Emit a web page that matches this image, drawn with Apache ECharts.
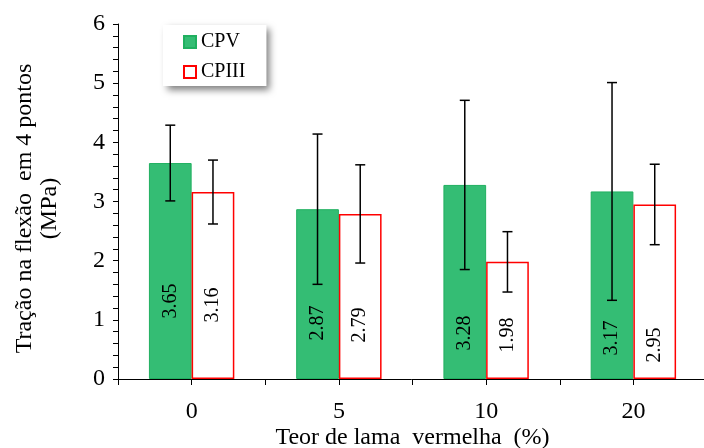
<!DOCTYPE html>
<html>
<head>
<meta charset="utf-8">
<script src="https://cdn.jsdelivr.net/npm/echarts@6/dist/echarts.min.js"></script>
<style>
html,body{margin:0;padding:0;background:#fff;}
#chart{width:704px;height:448px;}
</style>
</head>
<body>
<div id="chart"></div>
<script>
// ---- data ----
var categories = ['0', '5', '10', '20'];
var seriesNames = ['CPV', 'CPIII'];
var cpvValues = [3.65, 2.87, 3.28, 3.17];
var cpiiiValues = [3.16, 2.79, 1.98, 2.95];
var cpvErrors = [0.64, 1.27, 1.43, 1.84];
var cpiiiErrors = [0.54, 0.83, 0.51, 0.68];
var yTicks = [0, 1, 2, 3, 4, 5, 6];

// ---- style (not data) ----
var FONT = "'Liberation Serif', 'Times New Roman', Times, serif";
var labelLift = [[78, 56, 46, 41], [74, 54, 44, 34]]; // px from bar base to label centre
var BAR_FRAC = 0.29;

var allValues = [cpvValues, cpiiiValues];
var allErrors = [cpvErrors, cpiiiErrors];

function barData(s) {
  return allValues[s].map(function (v, i) {
    return {
      value: v,
      label: {
        show: true,
        position: 'insideBottom',
        distance: labelLift[s][i],
        rotate: 90,
        align: 'center',
        verticalAlign: 'middle',
        fontFamily: FONT,
        fontSize: 20,
        color: '#000',
        formatter: function (p) { return p.value.toFixed(2); }
      }
    };
  });
}

var errData = [];
for (var s = 0; s < 2; s++) {
  for (var i = 0; i < categories.length; i++) {
    errData.push([i, allValues[s][i], allErrors[s][i], s]);
  }
}

var chart = echarts.init(document.getElementById('chart'), null, {renderer: 'canvas'});
chart.setOption({
  animation: false,
  backgroundColor: '#fff',
  grid: {left: 118, right: -3, top: 24, bottom: 69, containLabel: false, outerBoundsMode: 'none'},
  legend: {
    data: seriesNames,
    orient: 'vertical',
    left: 163,
    top: 25,
    padding: [7, 21, 4, 20],
    itemGap: 10,
    itemWidth: 12,
    itemHeight: 12,
    icon: 'rect',
    backgroundColor: '#fff',
    shadowBlur: 7,
    shadowColor: 'rgba(0,0,0,0.5)',
    shadowOffsetX: 4,
    shadowOffsetY: 4,
    textStyle: {fontFamily: FONT, fontSize: 20, color: '#000'}
  },
  xAxis: [{
    type: 'category',
    data: categories,
    position: 'bottom',
    name: 'Teor de lama  vermelha  (%)',
    nameLocation: 'middle',
    nameGap: 47,
    nameMoveOverlap: false,
    nameTextStyle: {fontFamily: FONT, fontSize: 24, color: '#000'},
    axisLine: {show: true, lineStyle: {color: '#000', width: 1}},
    axisTick: {show: true, length: 6, lineStyle: {color: '#000'}},
    axisLabel: {fontFamily: FONT, fontSize: 24, color: '#000', margin: 21},
    splitLine: {show: false}
  }, {
    type: 'category',
    data: categories,
    position: 'bottom',
    gridIndex: 0,
    axisLine: {show: false},
    axisTick: {show: true, alignWithLabel: true, length: 6, lineStyle: {color: '#000'}},
    axisLabel: {show: false},
    splitLine: {show: false}
  }],
  yAxis: {
    type: 'value',
    min: yTicks[0],
    max: yTicks[yTicks.length - 1],
    interval: 1,
    name: 'Tração na flexão  em 4 pontos\n(MPa)',
    nameLocation: 'middle',
    nameGap: 56,
    nameMoveOverlap: false,
    nameRotate: 90,
    nameTextStyle: {fontFamily: FONT, fontSize: 24, color: '#000', lineHeight: 25, padding: [0, 14, 0, 0]},
    axisLine: {show: true, lineStyle: {color: '#000', width: 1}},
    axisTick: {show: true, length: 5, lineStyle: {color: '#000'}},
    minorTick: {show: true, splitNumber: 5, length: 5, lineStyle: {color: '#000'}},
    axisLabel: {fontFamily: FONT, fontSize: 24, color: '#000', margin: 13},
    splitLine: {show: false},
    minorSplitLine: {show: false}
  },
  series: [{
    name: 'CPV',
    type: 'bar',
    xAxisIndex: 0,
    barWidth: (BAR_FRAC * 100) + '%',
    barGap: '0%',
    itemStyle: {color: '#34bd74', borderColor: '#20b060', borderWidth: 1},
    data: barData(0)
  }, {
    name: 'CPIII',
    type: 'bar',
    xAxisIndex: 0,
    barWidth: (BAR_FRAC * 100) + '%',
    barGap: '0%',
    itemStyle: {color: '#ffffff', borderColor: '#ff0000', borderWidth: 1.5},
    data: barData(1)
  }, {
    name: 'err',
    type: 'custom',
    xAxisIndex: 0,
    z: 10,
    silent: true,
    encode: {x: 0, y: 1},
    data: errData,
    renderItem: function (params, api) {
      var ci = api.value(0), v = api.value(1), e = api.value(2), s = api.value(3);
      var bw = api.size([1, 0])[0] * BAR_FRAC;
      var dx = (s === 0 ? -1 : 1) * bw / 2;
      var top = api.coord([ci, v + e]);
      var bot = api.coord([ci, v - e]);
      var x = top[0] + dx;
      var cap = 5;
      var st = {stroke: '#000', lineWidth: 1.5};
      return {
        type: 'group',
        children: [
          {type: 'line', shape: {x1: x, y1: top[1], x2: x, y2: bot[1]}, style: st},
          {type: 'line', shape: {x1: x - cap, y1: top[1], x2: x + cap, y2: top[1]}, style: st},
          {type: 'line', shape: {x1: x - cap, y1: bot[1], x2: x + cap, y2: bot[1]}, style: st}
        ]
      };
    }
  }]
});
</script>
</body>
</html>
